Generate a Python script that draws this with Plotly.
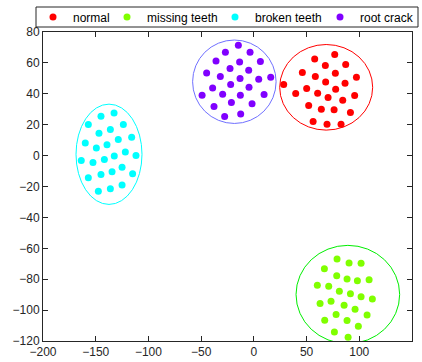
import plotly.graph_objects as go

# ---- data ----
normal_x = [57.7, 76.7, 67.8, 87.1, 46.0, 58.3, 77.3, 97.3, 28.3, 68.1, 86.5, 39.7, 50.1,
            60.5, 77.6, 70.4, 95.6, 84.3, 52.0, 64.0, 76.1, 91.6, 56.2, 69.4, 82.7]
normal_y = [62.5, 65.4, 58.3, 58.9, 53.8, 51.2, 53.3, 50.7, 46.0, 47.7, 46.8, 40.2, 43.4,
            40.4, 43.0, 37.6, 38.9, 35.9, 32.4, 30.0, 29.6, 27.9, 22.1, 20.3, 20.3]

missing_x = [78.9, 90.3, 101.7, 66.9, 78.6, 88.4, 98.2, 109.3, 60.2, 71.0, 81.1, 91.6, 101.7,
             112.4, 62.8, 73.2, 85.6, 96.0, 78.0, 107.4, 67.2, 88.4, 99.1, 76.4, 89.4]
missing_y = [-66.9, -69.5, -69.7, -73.2, -77.7, -79.9, -81.0, -80.3, -83.9, -84.6, -87.8, -89.4, -91.3,
             -92.8, -95.8, -94.3, -96.9, -99.4, -102.9, -103.1, -106.6, -106.8, -110.4, -114.1, -117.5]

broken_x = [-132.6, -145.0, -157.0, -123.8, -136.1, -146.9, -115.9, -128.6, -159.9, -139.3, -149.4, -121.9, -111.8,
            -132.4, -141.8, -163.7, -152.6, -125.0, -134.5, -145.0, -115.0, -157.0, -125.0, -136.1, -147.5]
broken_y = [27.6, 25.5, 20.1, 20.1, 16.9, 14.5, 11.9, 10.4, 8.1, 7.0, 5.0, 2.4, 0.1,
            -0.2, -2.5, -3.1, -4.4, -7.5, -10.5, -12.2, -11.8, -14.4, -19.1, -21.5, -23.0]

root_x = [-14.7, -27.0, -3.6, -35.9, -13.5, 6.2, -22.6, -4.9, -44.8, -31.8, -13.1, 4.6, 16.0,
          -22.0, -39.1, -4.6, -29.6, -12.8, 9.7, -49.1, -21.3, -1.7, -37.8, -12.5, -27.7]
root_y = [71.4, 66.9, 66.9, 61.3, 60.6, 60.9, 56.3, 55.2, 53.5, 51.2, 49.9, 49.4, 50.7,
          46.0, 43.8, 44.3, 39.7, 39.1, 39.5, 39.1, 34.4, 33.5, 31.8, 27.0, 25.3]

names = ["normal", "missing teeth", "broken teeth", "root crack"]
marker_colors = ["#ff0000", "#80ff00", "#00ffff", "#8000ff"]
xs = [normal_x, missing_x, broken_x, root_x]
ys = [normal_y, missing_y, broken_y, root_y]

# ellipse bounds (x0, x1, y0, y1) in data units
ell_x0 = [24.5, 40.0, -168.7, -58.1]
ell_x1 = [112.7, 138.3, -106.1, 21.1]
ell_y0 = [16.5, -121.7, -31.6, 20.8]
ell_y1 = [71.9, -58.1, 33.3, 74.8]
ell_colors = ["#ff0000", "#00ee00", "#00ffff", "#7070ff"]

x_ticks = [-200, -150, -100, -50, 0, 50, 100, 150]
y_ticks = [80, 60, 40, 20, 0, -20, -40, -60, -80, -100, -120]

W, H = 422, 362
L, R, T, B = 43, 10, 32, 21
legend_marker_px = [55, 129, 237, 342]  # marker centres of legend entries (px)
legend_ids = ["legend", "legend2", "legend3", "legend4"]

fig = go.Figure()
for n, c, x, y, lid in zip(names, marker_colors, xs, ys, legend_ids):
    fig.add_trace(go.Scatter(x=x, y=y, mode="markers", name=n, legend=lid,
                             marker=dict(color=c, size=7, line=dict(width=0))))

for x0, x1, y0, y1, c in zip(ell_x0, ell_x1, ell_y0, ell_y1, ell_colors):
    fig.add_shape(type="circle", xref="x", yref="y", x0=x0, x1=x1, y0=y0, y1=y1,
                  line=dict(color=c, width=1), layer="above")

# legend frame (paper coords relative to plot area)
pw, ph = W - L - R, H - T - B
fig.add_shape(type="rect", xref="paper", yref="paper",
              x0=(36 - L) / pw, x1=(418 - L) / pw,
              y0=(H - B - 27) / ph, y1=(H - B - 7) / ph,
              line=dict(color="#262626", width=1), fillcolor="rgba(0,0,0,0)", layer="below")

axis_common = dict(showgrid=False, zeroline=False, showline=True, mirror="ticks",
                   linecolor="#262626", linewidth=1, ticks="inside", ticklen=5,
                   tickcolor="#262626",
                   tickfont=dict(family="Liberation Sans, Arial", size=12, color="#262626"))

fig.update_xaxes(range=[-200, 150], tickvals=x_ticks, **axis_common)
fig.update_yaxes(range=[-120, 80], tickvals=y_ticks, **axis_common)

legends = {}
for lid, mx in zip(legend_ids, legend_marker_px):
    legends[lid] = dict(orientation="h", xref="container", yref="container",
                        x=(mx - 22) / W, y=1 - 17 / H, xanchor="left", yanchor="middle",
                        borderwidth=0, bgcolor="rgba(0,0,0,0)",
                        font=dict(family="Liberation Sans, Arial", size=12, color="black"))

fig.update_layout(
    width=W, height=H,
    margin=dict(l=L, r=R, t=T, b=B, autoexpand=False),
    paper_bgcolor="white", plot_bgcolor="white",
    font=dict(family="Liberation Sans, Arial", size=12, color="black"),
    showlegend=True,
    **legends,
)

fig.write_html("out.html")
